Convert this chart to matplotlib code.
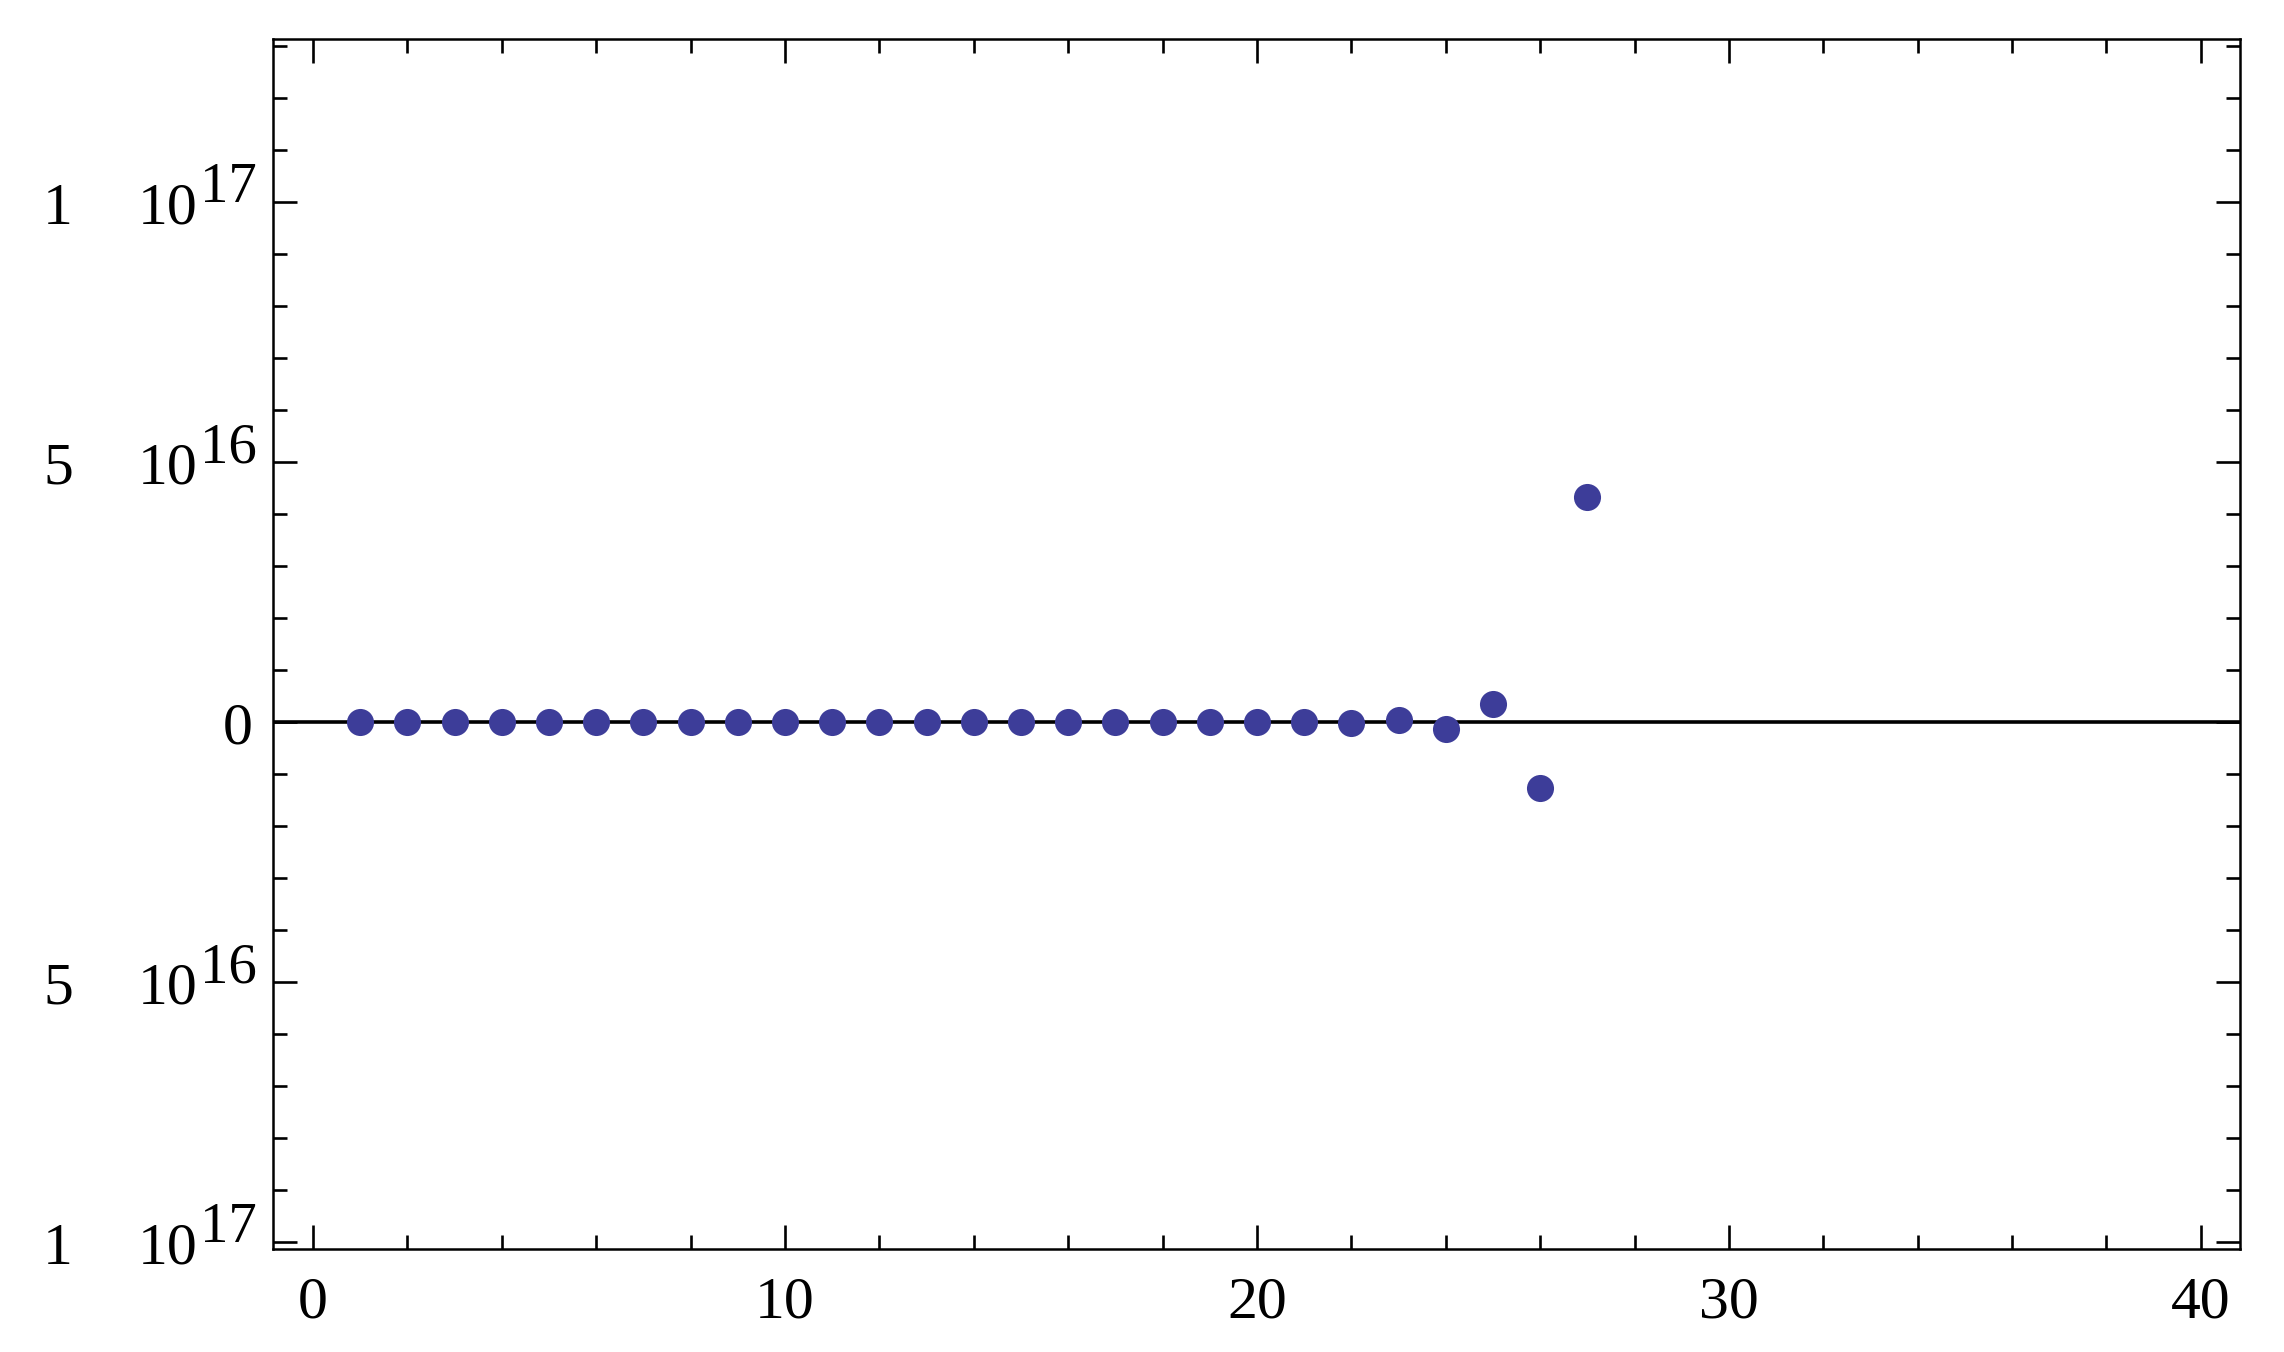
import matplotlib
matplotlib.use("Agg")
import matplotlib.pyplot as plt
import matplotlib.transforms as mtransforms
from matplotlib.ticker import MultipleLocator

# ---- data ----
x_index = list(range(1, 28))
values = [0, 0, 0, 0, 0, 0, 0, 0, 0, 0,
          0, 0, 0, 0, 0, 0, 0, 0, 0, 1e12,
          3e13, -1.2e14, 5e14, -1.3e15, 3.45e15, -1.26e16, 4.34e16]

x_ticks = [0, 10, 20, 30, 40]
x_ticklabels = ["0", "10", "20", "30", "40"]
y_ticks = [-1e17, -5e16, 0, 5e16, 1e17]
y_mantissa = ["1", "5", "0", "5", "1"]
y_exponent = ["17", "16", "", "16", "17"]

W, H = 2284, 1352
DPI = 100
FONT = "Liberation Serif"
FS = 43
COLOR = (0.24, 0.24, 0.6)

fig = plt.figure(figsize=(W / DPI, H / DPI), dpi=DPI)
ax = fig.add_axes([273 / W, 1 - 1248.7 / H, (2240 - 273) / W, (1248.7 - 39) / H])

ax.axhline(0, color="black", lw=2.6, zorder=1)
ax.plot(x_index, values, "o", ms=19.5, color=COLOR, mec="none", zorder=3)

ax.set_xlim(-0.85, 40.83)
ax.set_ylim(-1.0123e17, 1.314e17)

for s in ax.spines.values():
    s.set_linewidth(1.8)

ax.xaxis.set_major_locator(MultipleLocator(10))
ax.xaxis.set_minor_locator(MultipleLocator(2))
ax.set_xticks(x_ticks)
ax.set_xticklabels(x_ticklabels, fontfamily=FONT, fontsize=FS)
ax.set_yticks(y_ticks)
ax.yaxis.set_minor_locator(MultipleLocator(1e16))
ax.set_yticklabels([])

ax.tick_params(which="both", direction="in", top=True, right=True,
               width=1.9, color="black")
ax.tick_params(which="major", length=17)
ax.tick_params(which="minor", length=10)
ax.tick_params(axis="x", which="major", pad=20)
ax.tick_params(axis="y", which="major", pad=0)

# y tick labels drawn as separate pieces (mantissa, "10", exponent)
blend = mtransforms.blended_transform_factory(fig.transFigure, ax.transData)
down = mtransforms.ScaledTranslation(0, -15.5 / 72, fig.dpi_scale_trans)
for yv, m, e in zip(y_ticks, y_mantissa, y_exponent):
    if e == "":
        ax.text(253 / W, yv, m, transform=blend + down, ha="right", va="baseline",
                fontfamily=FONT, fontsize=FS, clip_on=False)
        continue
    ax.text(58 / W, yv, m, transform=blend + down, ha="center", va="baseline",
            fontfamily=FONT, fontsize=FS, clip_on=False)
    ax.text(138 / W, yv, "10", transform=blend + down, ha="left", va="baseline",
            fontfamily=FONT, fontsize=FS, clip_on=False)
    ax.text(200 / W, yv, e, transform=blend, ha="left", va="baseline",
            fontfamily=FONT, fontsize=FS * 0.95, clip_on=False)

fig.savefig("out.png", dpi=DPI)
